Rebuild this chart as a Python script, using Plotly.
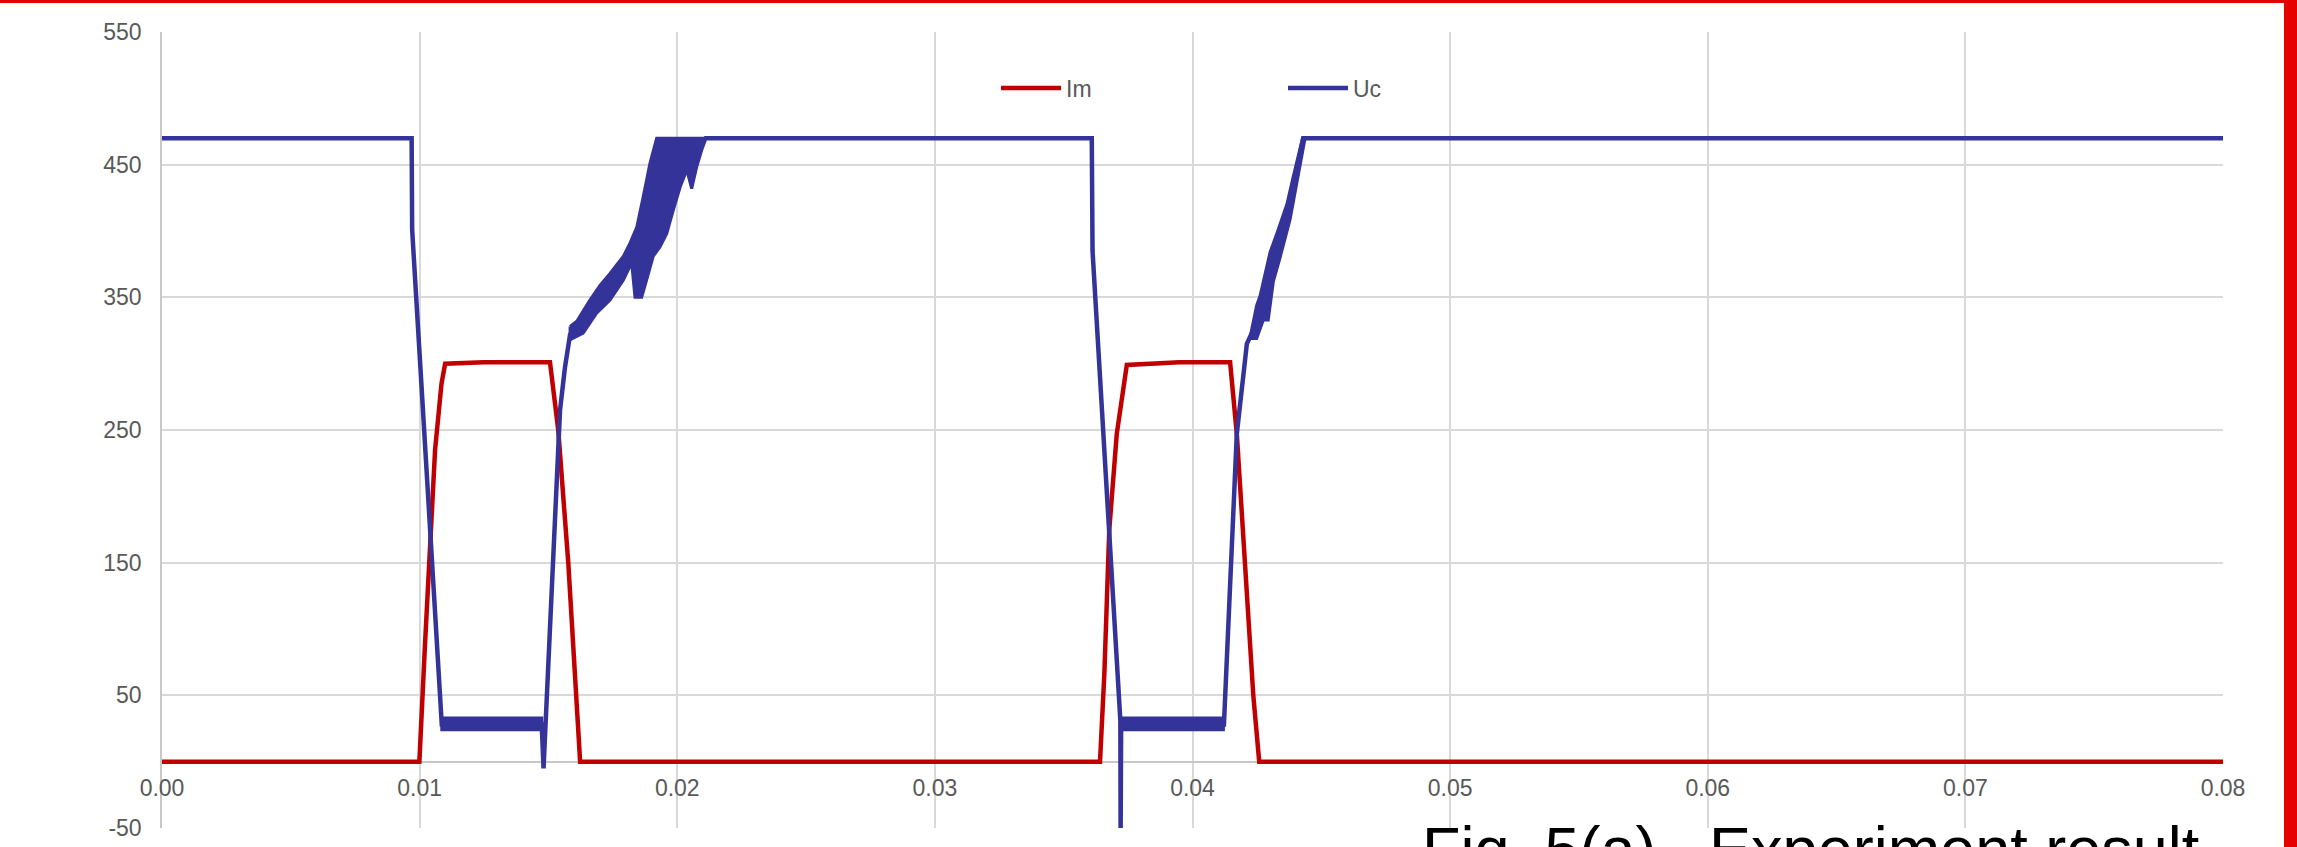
import plotly.graph_objects as go

# ---- Im (red) : time [s] / value ----
im_t = [0.0, 0.00999, 0.0102, 0.0104, 0.0106, 0.01085, 0.01099, 0.0125, 0.01506, 0.01538,
        0.01577, 0.01623,
        0.03641, 0.03658, 0.03677, 0.03706, 0.03745, 0.0395, 0.04146, 0.04172, 0.04204, 0.04236,
        0.04259, 0.08]
im_v = [0, 0, 85, 165, 235, 285, 300, 301, 301, 250,
        150, 0,
        0, 67, 175, 247, 299, 301, 301, 247, 150, 50,
        0, 0]

# ---- Uc (blue) : centre trace ----
uc_t = [0.0, 0.00969, 0.00971, 0.01086, 0.0125, 0.01474, 0.01481, 0.01545, 0.01564, 0.01584,
        0.0170, 0.0180, 0.0190, 0.0200, 0.0211,
        0.03609, 0.03612, 0.03720, 0.03721, 0.03723, 0.0390, 0.04122, 0.04172, 0.04191,
        0.04211, 0.0423, 0.0430, 0.0437, 0.0443, 0.08]
uc_v = [470, 470, 401, 28, 29, 28, -5, 265, 297, 322,
        350, 380, 420, 448, 470,
        470, 385, 31, -56, 28, 29, 28, 247, 283,
        315, 323, 365, 415, 470, 470]

# ---- Uc ripple envelopes (upper / lower) ----
low1_t = [0.01086, 0.01474]
low1_up = [33, 33]
low1_lo = [24, 24]

low2_t = [0.03723, 0.04120]
low2_up = [33, 33]
low2_lo = [24, 24]

rise1_up_t = [0.01584, 0.0161, 0.01661, 0.0170, 0.01739, 0.01791, 0.01817, 0.01843, 0.01868,
              0.01894, 0.0192, 0.0211]
rise1_up_v = [328, 332, 348, 359, 368, 381, 391, 403, 426, 451, 470, 470]
rise1_lo_t = [0.01584, 0.01635, 0.01687, 0.01739, 0.01791, 0.01823, 0.01836, 0.01862, 0.01881,
              0.01907, 0.01933, 0.01959, 0.01985, 0.02011, 0.02037, 0.02056, 0.02075, 0.02095,
              0.02108, 0.0211]
rise1_lo_v = [318, 323, 338, 348, 363, 376, 350, 350, 363,
              381, 388, 398, 416, 433, 446, 432, 448, 461,
              468, 470]

rise2_up_t = [0.0423, 0.04249, 0.04262, 0.04301, 0.04327, 0.04366, 0.04391, 0.04417, 0.04427]
rise2_up_v = [326, 344, 351, 384, 398, 420, 441, 463, 470]
rise2_lo_t = [0.04223, 0.04249, 0.04275, 0.04294, 0.04314, 0.0434, 0.04379, 0.04405, 0.04424,
              0.04437]
rise2_lo_v = [319, 319, 333, 333, 362, 380, 409, 434, 456, 470]

# ---- axes ----
x_ticks = [0.0, 0.01, 0.02, 0.03, 0.04, 0.05, 0.06, 0.07, 0.08]
x_labels = ["0.00", "0.01", "0.02", "0.03", "0.04", "0.05", "0.06", "0.07", "0.08"]
y_ticks = [-50, 50, 150, 250, 350, 450, 550]
y_labels = ["-50", "50", "150", "250", "350", "450", "550"]

RED = "#C00000"
BLUE = "#333399"
GRID = "#D9D9D9"
TXT = "#595959"
FONT = "Liberation Sans, Arial, sans-serif"

fig = go.Figure()

fig.add_trace(go.Scatter(x=im_t, y=im_v, mode="lines", name="Im",
                         line=dict(color=RED, width=4.5)))
fig.add_trace(go.Scatter(x=uc_t, y=uc_v, mode="lines", name="Uc",
                         line=dict(color=BLUE, width=4.5), legendgroup="uc"))


def band(t_up, v_up, t_lo, v_lo):
    xs = list(t_up) + list(reversed(t_lo))
    ys = list(v_up) + list(reversed(v_lo))
    fig.add_trace(go.Scatter(x=xs + [xs[0]], y=ys + [ys[0]], mode="lines", fill="toself",
                             fillcolor=BLUE, line=dict(color=BLUE, width=3),
                             legendgroup="uc", showlegend=False, hoverinfo="skip"))


band(low1_t, low1_up, low1_t, low1_lo)
band(low2_t, low2_up, low2_t, low2_lo)
band(rise1_up_t, rise1_up_v, rise1_lo_t, rise1_lo_v)
band(rise2_up_t, rise2_up_v, rise2_lo_t, rise2_lo_v)

W, H = 2297, 847
L, R, T, B = 162, 74, 32, 19
pw, ph = W - L - R, H - T - B


def px_x(p):
    return (p - L) / pw


def px_y(p):
    return (H - B - p) / ph


fig.update_layout(
    width=W, height=H,
    margin=dict(l=L, r=R, t=T, b=B, pad=0, autoexpand=False),
    paper_bgcolor="white", plot_bgcolor="white",
    font=dict(family=FONT, size=23, color=TXT),
    showlegend=True,
    legend=dict(orientation="h", x=px_x(996), xanchor="left", y=px_y(88), yanchor="middle",
                bgcolor="rgba(0,0,0,0)", itemwidth=60, entrywidth=212,
                entrywidthmode="pixels", font=dict(size=23, color=TXT),
                traceorder="normal"),
    xaxis=dict(range=[0, 0.08], tickvals=x_ticks, ticktext=x_labels,
               showgrid=True, gridcolor=GRID, gridwidth=1.5, automargin=False,
               zeroline=False, showline=True, linecolor="#C8C8C8", linewidth=1.5,
               layer="below traces",
               anchor="free", position=50 / 600, ticks="", ticklabelstandoff=6,
               tickfont=dict(size=23, color=TXT)),
    yaxis=dict(range=[-50, 550], tickvals=y_ticks, ticktext=y_labels, showgrid=True,
               gridcolor=GRID, gridwidth=1.5, zeroline=False, showline=True,
               linecolor="#C8C8C8", linewidth=1.5, automargin=False, layer="below traces",
               ticks="", ticklabelstandoff=14,
               tickfont=dict(size=23, color=TXT)),
)

# figure frame
BORDER = "#E60000"
fig.add_shape(type="rect", xref="paper", yref="paper", x0=px_x(0), x1=px_x(2284),
              y0=px_y(3), y1=px_y(0), fillcolor=BORDER, line_width=0, layer="above")
fig.add_shape(type="rect", xref="paper", yref="paper", x0=px_x(2284), x1=px_x(W),
              y0=px_y(H), y1=px_y(0), fillcolor=BORDER, line_width=0, layer="above")

# caption
fig.add_annotation(text="Fig. 5(a).  Experiment result", xref="paper", yref="paper",
                   x=px_x(1420), y=px_y(812), xanchor="left", yanchor="top",
                   showarrow=False, font=dict(family=FONT, size=63, color="black"))

fig.write_html("out.html")
